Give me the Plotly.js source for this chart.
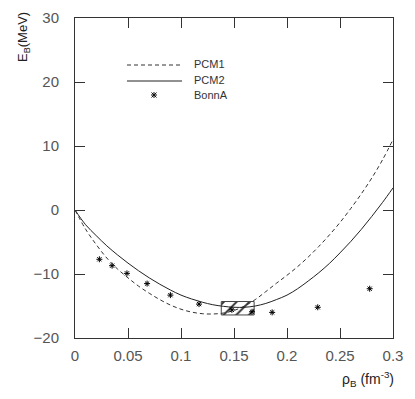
<!DOCTYPE html>
<html>
<head>
<meta charset="utf-8">
<script src="https://cdn.plot.ly/plotly-3.0.1.min.js"></script>
<style>html,body{margin:0;padding:0;background:#fff;}#chart{width:415px;height:399px;}</style>
</head>
<body>
<div id="chart"></div>
<script>
// Density grid (fm^-3)
var rho = [0, 0.01, 0.02, 0.03, 0.04, 0.05, 0.06, 0.07, 0.08, 0.09, 0.10,
           0.11, 0.12, 0.13, 0.14, 0.15, 0.16, 0.17, 0.18, 0.19, 0.20,
           0.21, 0.22, 0.23, 0.24, 0.25, 0.26, 0.27, 0.28, 0.29, 0.30];
// PCM1 (dashed) binding energy per nucleon (MeV)
var pcm1 = [0, -3.0, -5.4, -7.5, -9.2, -10.6, -11.9, -13.0, -14.0, -14.85, -15.5,
            -15.95, -16.2, -16.25, -16.1, -15.7, -15.0, -14.0, -12.75, -11.45, -10.2,
            -8.85, -7.35, -5.7, -3.9, -1.95, 0.2, 2.5, 5.0, 7.8, 11.0];
// PCM2 (solid)
var pcm2 = [0, -2.3, -4.0, -5.6, -7.0, -8.3, -9.5, -10.6, -11.6, -12.5, -13.3,
            -13.9, -14.4, -14.8, -15.05, -15.2, -15.2, -15.0, -14.6, -14.0, -13.3,
            -12.3, -11.1, -9.8, -8.35, -6.7, -4.95, -3.05, -1.0, 1.15, 3.45];
// BonnA points
var bonnRho = [0.023, 0.035, 0.049, 0.068, 0.090, 0.117, 0.148, 0.167, 0.186, 0.229, 0.278];
var bonnE   = [-7.7, -8.7, -9.9, -11.5, -13.3, -14.7, -15.6, -15.9, -16.0, -15.2, -12.3];
// Empirical saturation region (box)
var boxRho = [0.138, 0.169];
var boxE = [-16.4, -14.3];
// Tick labels
var xTicks = [0, 0.05, 0.1, 0.15, 0.2, 0.25, 0.3];
var yTicks = [-20, -10, 0, 10, 20, 30];

var traces = [
  {x: [boxRho[0], boxRho[1], boxRho[1], boxRho[0], boxRho[0]],
   y: [boxE[0], boxE[0], boxE[1], boxE[1], boxE[0]],
   type: 'scatter', mode: 'lines', fill: 'toself',
   fillcolor: 'rgba(0,0,0,0)',
   fillpattern: {shape: '/', size: 9, solidity: 0.2, fgcolor: '#222', bgcolor: 'rgba(255,255,255,0)'},
   line: {color: '#444', width: 1}, hoverinfo: 'skip', showlegend: false},
  {x: rho, y: pcm1, type: 'scatter', mode: 'lines', name: 'PCM1',
   line: {color: '#333', width: 1, dash: '4px,3px', shape: 'spline'}, showlegend: false},
  {x: rho, y: pcm2, type: 'scatter', mode: 'lines', name: 'PCM2',
   line: {color: '#222', width: 1, shape: 'spline'}, showlegend: false},
  {x: bonnRho, y: bonnE, type: 'scatter', mode: 'markers', name: 'BonnA',
   marker: {symbol: 'asterisk-open', size: 5, color: '#000', line: {color: '#111', width: 1}}, showlegend: false}
];

var px = function(p){ return (p - 75) / 318; };   // pixel -> paper x
var py = function(p){ return (338 - p) / 320; };  // pixel -> paper y

var tfont = {family: 'Liberation Sans, Arial, sans-serif', size: 15, color: '#555'};
var lfont = {family: 'Liberation Sans, Arial, sans-serif', size: 11, color: '#333'};
var layout = {
  width: 415, height: 399,
  margin: {l: 75, r: 22, t: 18, b: 61},
  paper_bgcolor: '#fff', plot_bgcolor: '#fff',
  showlegend: false,
  xaxis: {range: [0, 0.3], tickvals: xTicks, ticks: 'inside', ticklen: 10, tickcolor: '#333',
          showline: true, linecolor: '#333', linewidth: 1, mirror: 'allticks',
          showgrid: false, zeroline: false, tickfont: tfont, ticklabelstandoff: 4},
  yaxis: {range: [-20, 30], tickvals: yTicks, ticks: 'inside', ticklen: 10, tickcolor: '#333',
          showline: true, linecolor: '#333', linewidth: 1, mirror: 'allticks',
          showgrid: false, zeroline: false, tickfont: tfont, ticklabelstandoff: 12},
  shapes: [
    {type: 'line', xref: 'paper', yref: 'paper', x0: px(127), x1: px(182), y0: py(65), y1: py(65),
     line: {color: '#333', width: 1, dash: '4px,3px'}},
    {type: 'line', xref: 'paper', yref: 'paper', x0: px(127), x1: px(182), y0: py(81), y1: py(81),
     line: {color: '#222', width: 1}},
    {type: 'path', xref: 'paper', yref: 'paper', xsizemode: 'pixel', ysizemode: 'pixel',
     xanchor: px(154), yanchor: py(95),
     path: 'M-2.5,-2.5L2.5,2.5M-2.5,2.5L2.5,-2.5M0,-3L0,3M-3,0L3,0', line: {color: '#111', width: 1}}
  ],
  annotations: [
    {xref: 'paper', yref: 'paper', x: px(192), y: py(64), xanchor: 'left', yanchor: 'middle',
     text: 'PCM1', showarrow: false, font: lfont},
    {xref: 'paper', yref: 'paper', x: px(192), y: py(80), xanchor: 'left', yanchor: 'middle',
     text: 'PCM2', showarrow: false, font: lfont},
    {xref: 'paper', yref: 'paper', x: px(192), y: py(95), xanchor: 'left', yanchor: 'middle',
     text: 'BonnA', showarrow: false, font: lfont},
    {xref: 'paper', yref: 'paper', x: px(24), y: py(37), xanchor: 'center', yanchor: 'middle',
     textangle: -90, text: 'E<sub>B</sub>(MeV)', showarrow: false,
     font: {family: 'Liberation Sans, Arial, sans-serif', size: 13, color: '#222'}},
    {xref: 'paper', yref: 'paper', x: px(396), y: py(379), xanchor: 'right', yanchor: 'middle',
     text: 'ρ<sub>B</sub> (fm<sup>-3</sup>)', showarrow: false,
     font: {family: 'Liberation Sans, Arial, sans-serif', size: 14, color: '#222'}}
  ]
};

Plotly.newPlot('chart', traces, layout, {staticPlot: true, displayModeBar: false});
</script>
</body>
</html>
